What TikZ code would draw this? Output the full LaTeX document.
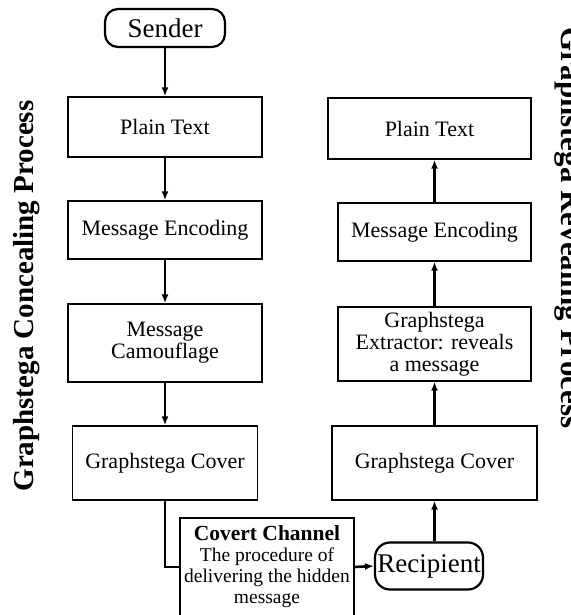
\documentclass[tikz,border=0pt]{standalone}
\usepackage{fontspec}
\setmainfont{Liberation Serif}
\usetikzlibrary{arrows.meta}
\begin{document}
\begin{tikzpicture}[x=1pt,y=-1pt,
  box/.style={draw,line width=1.4pt,align=center,inner sep=2pt,font=\fontsize{22}{22}\selectfont},
  term/.style={draw,line width=2.2pt,rounded corners=13pt,align=center,inner sep=2pt,font=\fontsize{27}{27}\selectfont},
  flow/.style={line width=2.6pt,-{Latex[length=9pt,width=7pt]}},
  side/.style={font=\fontsize{29}{29}\selectfont\bfseries,anchor=base,inner sep=0pt}]
\useasboundingbox (0,0) rectangle (570,615);
% left column
\node[term,minimum width=120pt,minimum height=38pt] (sender) at (165,28) {Sender};
\node[box,minimum width=194pt,minimum height=60pt] (lpt) at (165,127) {Plain Text};
\node[box,minimum width=194pt,minimum height=58pt] (lme) at (165,230) {Message Encoding};
\node[box,minimum width=194pt,minimum height=78pt] (lmc) at (165,343) {Message\\Camouflage};
\node[box,minimum width=185pt,minimum height=74pt] (lgc) at (165,463) {Graphstega Cover};
% right column
\node[box,minimum width=203pt,minimum height=61pt] (rpt) at (429.5,128.5) {Plain Text};
\node[box,minimum width=193pt,minimum height=58pt] (rme) at (434.5,232) {Message Encoding};
\node[box,minimum width=193pt,minimum height=74pt] (rex) at (434.5,344) {Graphstega\\Extractor: reveals\\a message};
\node[box,minimum width=205pt,minimum height=74pt] (rgc) at (434.5,463) {Graphstega Cover};
% bottom
\node[box,minimum width=174pt,minimum height=98pt,font=\fontsize{19.5}{21}\selectfont] (cov) at (267,567) {{\fontsize{21.5}{21}\selectfont\textbf{Covert Channel}}\\The procedure of\\delivering the hidden\\message};
\node[term,minimum width=108pt,minimum height=47pt,rounded corners=15pt] (rec) at (429,566) {Recipient};
% side labels
\node[side,rotate=90] (lside) at (33,296) {Graphstega Concealing Process};
\node[side,rotate=-90,font=\fontsize{31}{31}\selectfont\bfseries] (rside) at (561,228) {Graphstega Revealing Process};
% connectors
\draw[flow] (sender) -- (lpt);
\draw[flow] (lpt) -- (lme);
\draw[flow] (lme) -- (lmc);
\draw[flow] (lmc) -- (lgc);
\draw[line width=2.6pt] (lgc.south) |- (cov.west);
\draw[flow] (cov.east) -- (rec.west);
\draw[flow] (rec.north -| rgc.south) -- (rgc.south);
\draw[flow] (rgc) -- (rex);
\draw[flow] (rex) -- (rme);
\draw[flow] (rme.north) -- (rme.north |- rpt.south);
\end{tikzpicture}
\end{document}
